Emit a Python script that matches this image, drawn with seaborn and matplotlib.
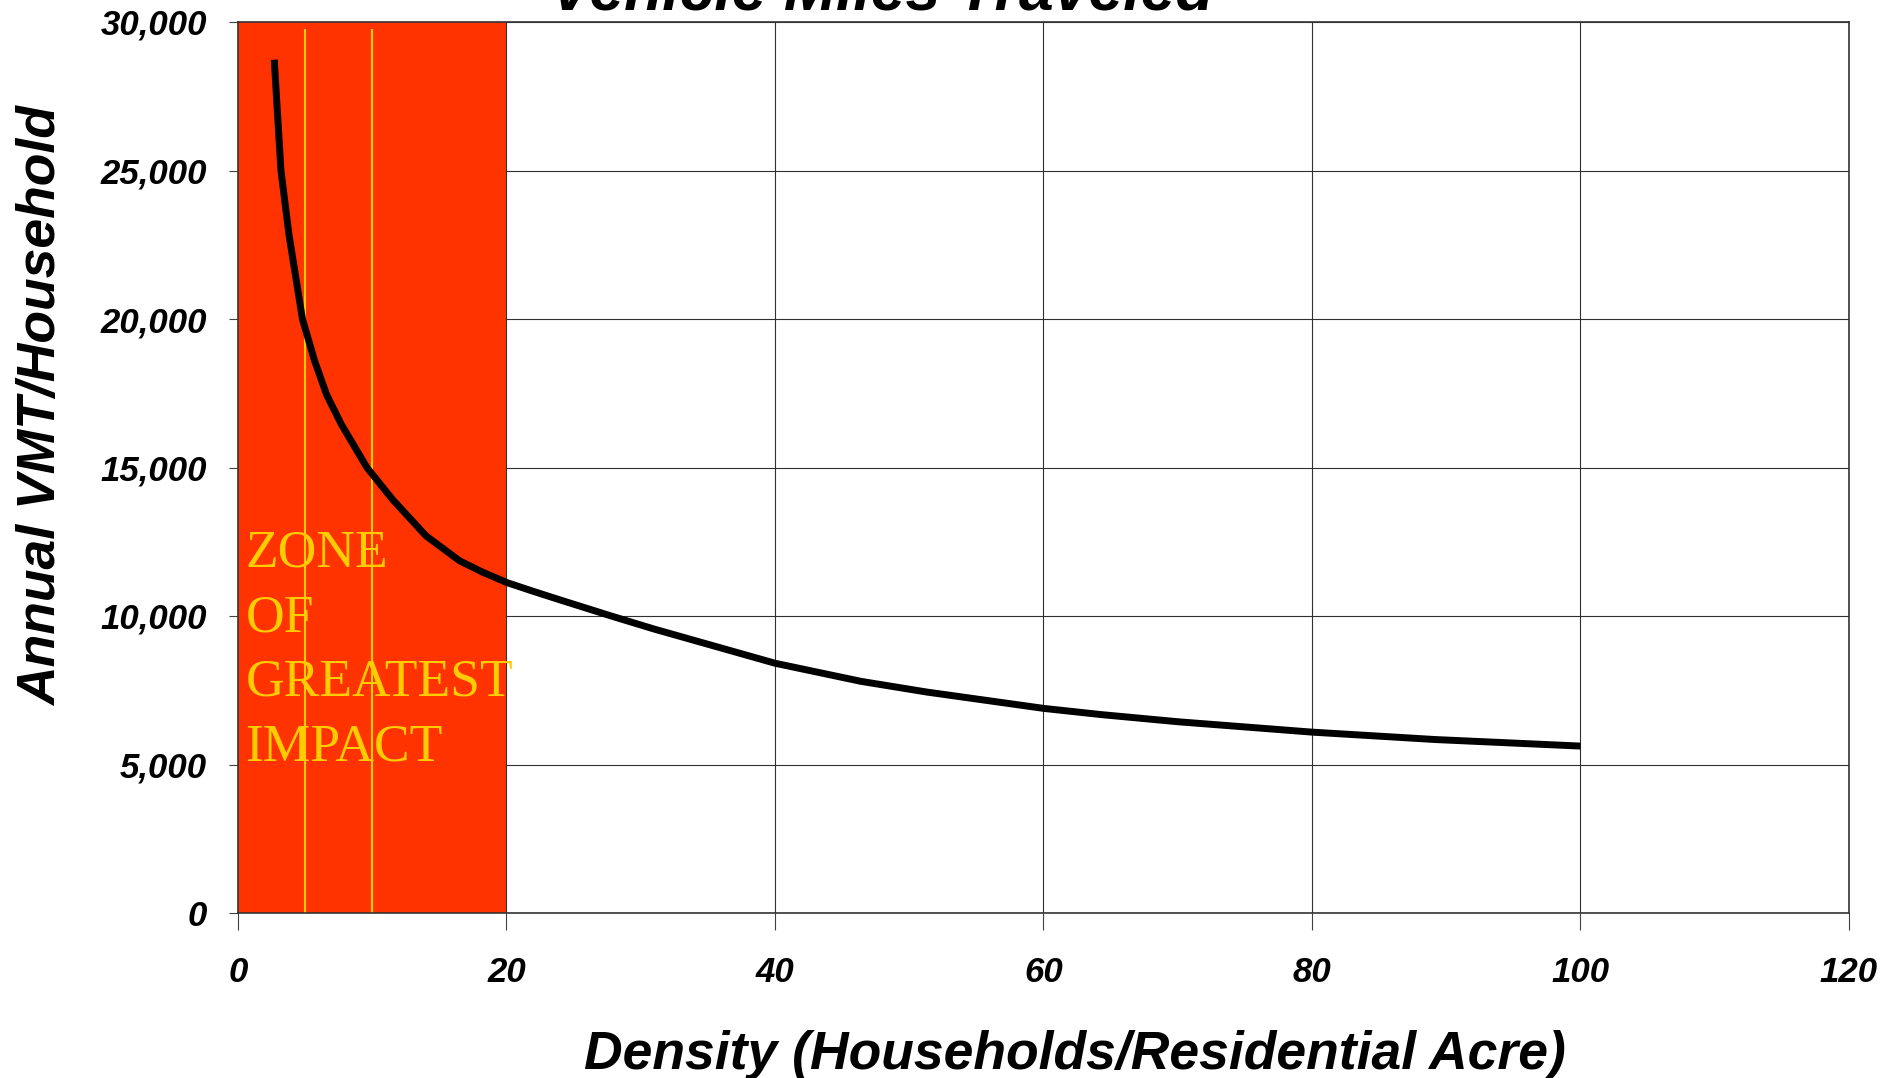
import matplotlib
matplotlib.use("Agg")
import matplotlib.pyplot as plt
import seaborn as sns
import pandas as pd

# ---- data ----
density = [2.7, 2.9, 3.2, 3.8, 4.8, 5.7, 6.6, 7.7, 9.6, 11.5, 14.0, 16.5, 18.2, 20.0,
           22.0, 24.0, 27.8, 31.0, 40, 46.4, 51.3, 60, 64.3, 70, 80, 89.2, 100]
vmt = [28730, 27240, 25000, 22830, 20000, 18600, 17450, 16450, 15000, 13930, 12700,
       11860, 11480, 11130, 10830, 10540, 10000, 9560, 8410, 7800, 7440, 6890, 6680,
       6440, 6090, 5840, 5620]

x_ticks = [0, 20, 40, 60, 80, 100, 120]
x_tick_labels = ["0", "20", "40", "60", "80", "100", "120"]
y_ticks = [0, 5000, 10000, 15000, 20000, 25000, 30000]
y_tick_labels = ["0", "5,000", "10,000", "15,000", "20,000", "25,000", "30,000"]

zone_range = [0, 20]
marker_lines = [5, 10]
zone_lines = ["ZONE", "OF", "GREATEST", "IMPACT"]

title = "Vehicle Miles Traveled"
xlabel = "Density (Households/Residential Acre)"
ylabel = "Annual VMT/Household"

# ---- style ----
sns.set_style("white")
plt.rcParams["font.family"] = ["Liberation Sans", "DejaVu Sans"]
plt.rcParams["text.color"] = "black"
plt.rcParams["xtick.color"] = "black"
plt.rcParams["ytick.color"] = "black"

W, H = 1883, 1078
fig = plt.figure(figsize=(W / 100, H / 100), dpi=100)
ax = fig.add_axes([238 / W, 1 - 913 / H, (1849 - 238) / W, (913 - 22) / H])

ax.axvspan(zone_range[0], zone_range[1], color="#FF3300", lw=0, zorder=1)
ax.vlines(marker_lines, 0, 29750, color="#FFCC00", lw=1.5, zorder=2.5)

df = pd.DataFrame({"density": density, "vmt": vmt})
sns.lineplot(data=df, x="density", y="vmt", color="black", lw=5, ax=ax,
             estimator=None, sort=True, zorder=4, solid_capstyle="butt",
             solid_joinstyle="round")

ax.set_xlim(0, 120)
ax.set_ylim(0, 30000)
ax.set_xticks(x_ticks)
ax.set_xticklabels(x_tick_labels)
ax.set_yticks(y_ticks)
ax.set_yticklabels(y_tick_labels)
ax.set_xlabel("")
ax.set_ylabel("")

ax.grid(True, color="#303030", lw=0.8, zorder=1.5)
for s in ax.spines.values():
    s.set_visible(True)
    s.set_color("#333333")
    s.set_linewidth(1.2)

ax.tick_params(axis="x", length=12, width=0.8, color="#404040", pad=19,
               labelsize=25, direction="out", bottom=True, labelcolor="black")
ax.tick_params(axis="y", length=6.5, width=0.8, color="#404040", pad=16,
               labelsize=25, direction="out", left=True, labelcolor="black")
for lab in ax.get_xticklabels() + ax.get_yticklabels():
    lab.set_fontweight("bold")
    lab.set_fontstyle("italic")

# zone text
zone_baselines = [11650, 9480, 7320, 5150]
for txt, yb in zip(zone_lines, zone_baselines):
    ax.text(0.55, yb, txt, family=["Liberation Serif", "DejaVu Serif"], fontsize=38.5,
            color="#FFCC00", va="baseline", ha="left", zorder=3)

# title and labels
fig.text(882 / W, 1 - 9 / H, title, ha="center", va="baseline", fontsize=45,
         fontweight="bold", fontstyle="italic", color="black")
fig.text(1075 / W, 1 - 1069 / H, xlabel, ha="center", va="baseline", fontsize=38.5,
         fontweight="bold", fontstyle="italic", color="black")
fig.text(42 / W, 1 - 406 / H, ylabel, ha="center", va="center", rotation=90,
         fontsize=38.5, fontweight="bold", fontstyle="italic", color="black")

fig.savefig("out.png", dpi=100)
